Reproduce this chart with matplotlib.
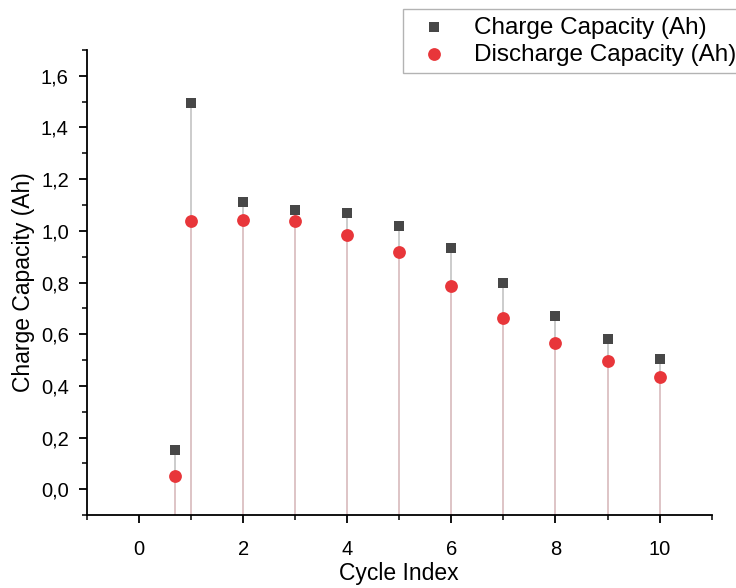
import matplotlib
matplotlib.use("Agg")
import matplotlib.pyplot as plt
from matplotlib.ticker import FuncFormatter, MultipleLocator

plt.rcParams['font.family'] = ['Liberation Sans', 'DejaVu Sans']

# values
cycle_index = [0.7, 1, 2, 3, 4, 5, 6, 7, 8, 9, 10]
charge_capacity = [0.15, 1.495, 1.113, 1.080, 1.068, 1.017, 0.935, 0.797, 0.672, 0.580, 0.505]
discharge_capacity = [0.05, 1.040, 1.043, 1.037, 0.985, 0.918, 0.785, 0.663, 0.567, 0.495, 0.435]

y_min, y_max = -0.1, 1.7

fig = plt.figure(figsize=(7.36, 5.88), dpi=100)
ax = fig.add_axes([0.118, 0.124, 0.849, 0.791])

# drop lines down to the bottom axis
ax.vlines(cycle_index, y_min, charge_capacity, color="#c4c4c4", lw=1.2, zorder=1)
ax.vlines(cycle_index, y_min, discharge_capacity, color="#e2c4c6", lw=1.2, zorder=2)

ax.scatter(cycle_index, charge_capacity, marker="s", s=60, color="#474747",
           label="Charge Capacity (Ah)", zorder=3, linewidths=0)
ax.scatter(cycle_index, discharge_capacity, marker="o", s=85, color="#e8363a",
           label="Discharge Capacity (Ah)", zorder=4, linewidths=0)

ax.set_xlim(-1, 11)
ax.set_ylim(y_min, y_max)
ax.xaxis.set_major_locator(MultipleLocator(2))
ax.xaxis.set_minor_locator(MultipleLocator(1))
ax.yaxis.set_major_locator(MultipleLocator(0.2))
ax.yaxis.set_minor_locator(MultipleLocator(0.1))
ax.yaxis.set_major_formatter(FuncFormatter(lambda v, p: f"{v:.1f}".replace(".", ",")))

ax.spines["top"].set_visible(False)
ax.spines["right"].set_visible(False)
for s in ("left", "bottom"):
    ax.spines[s].set_linewidth(1.3)
ax.tick_params(which="major", direction="out", length=6, width=1.3, labelsize=14.5, pad=7)
ax.tick_params(axis="x", which="major", pad=12)
ax.tick_params(which="minor", direction="out", length=3.5, width=1.1)

ax.set_xlabel("Cycle Index", fontsize=16.5, labelpad=2)
ax.set_ylabel("Charge Capacity (Ah)", fontsize=16.5, labelpad=4)

leg = fig.legend(loc="upper left", bbox_to_anchor=(0.548, 0.984), fontsize=17.5,
                 frameon=True, fancybox=False, edgecolor="#a0a0a0",
                 handletextpad=0.7, borderpad=0.3, labelspacing=0.2,
                 handlelength=1.9, borderaxespad=0, scatterpoints=1)
leg.get_frame().set_linewidth(1.0)

fig.savefig("out.png", dpi=100)
